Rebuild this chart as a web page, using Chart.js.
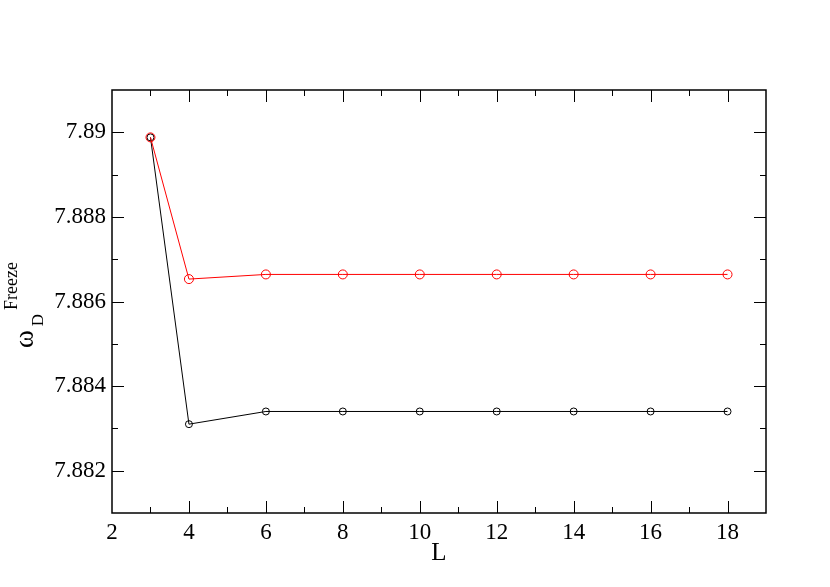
<!DOCTYPE html>
<html>
<head>
<meta charset="utf-8">
<script src="https://cdn.jsdelivr.net/npm/chart.js@4.4.1/dist/chart.umd.min.js"></script>
<style>
html,body{margin:0;padding:0;background:#fff;}
canvas{display:block;}
</style>
</head>
<body>
<canvas id="c" width="830" height="587"></canvas>
<script>
const L = [3, 4, 6, 8, 10, 12, 14, 16, 18];
const blackSeries = [7.88988, 7.88310, 7.88340, 7.88340, 7.88340, 7.88340, 7.88340, 7.88340, 7.88340];
const redSeries = [7.88988, 7.88653, 7.88664, 7.88664, 7.88664, 7.88664, 7.88664, 7.88664, 7.88664];
const xRange = [2, 19];
const yRange = [7.881, 7.891];
const xTickValues = [2, 4, 6, 8, 10, 12, 14, 16, 18];
const xTickLabels = ['2', '4', '6', '8', '10', '12', '14', '16', '18'];
const yTickValues = [7.882, 7.884, 7.886, 7.888, 7.890];
const yTickLabels = ['7.882', '7.884', '7.886', '7.888', '7.89'];
const xMinor = 1;
const yMinor = 0.001;
const xTitle = 'L';
const yTitle = ['ω', 'D', 'Freeze'];

const FONT = '"Liberation Serif", "Times New Roman", serif';

function pts(ys) { return L.map((x, i) => ({x: x, y: ys[i]})); }

const framePlugin = {
  id: 'frame',
  afterDatasetsDraw(chart) {
    const ctx = chart.ctx, a = chart.chartArea;
    const xs = chart.scales.x, ys = chart.scales.y;
    ctx.save();
    ctx.strokeStyle = '#000';
    ctx.lineWidth = 1.5;
    ctx.strokeRect(a.left, a.top, a.right - a.left, a.bottom - a.top);
    ctx.lineWidth = 1;
    ctx.beginPath();
    // x ticks (bottom and top, inward)
    const nx = Math.round((xRange[1] - xRange[0]) / xMinor);
    for (let k = 1; k < nx; k++) {
      const v = xRange[0] + k * xMinor;
      const major = xTickValues.some(t => Math.abs(t - v) < 1e-9);
      const len = major ? 12 : 6;
      const px = Math.round(xs.getPixelForValue(v)) + 0.5;
      ctx.moveTo(px, a.bottom); ctx.lineTo(px, a.bottom - len);
      ctx.moveTo(px, a.top); ctx.lineTo(px, a.top + len);
    }
    // y ticks (left and right, inward)
    const ny = Math.round((yRange[1] - yRange[0]) / yMinor);
    for (let k = 1; k < ny; k++) {
      const v = yRange[0] + k * yMinor;
      const major = yTickValues.some(t => Math.abs(t - v) < 1e-9);
      const len = major ? 12 : 6;
      const py = Math.round(ys.getPixelForValue(v)) + 0.5;
      ctx.moveTo(a.left, py); ctx.lineTo(a.left + len, py);
      ctx.moveTo(a.right, py); ctx.lineTo(a.right - len, py);
    }
    ctx.stroke();

    // x title
    ctx.fillStyle = '#000';
    ctx.font = '25px ' + FONT;
    ctx.textAlign = 'center';
    ctx.textBaseline = 'alphabetic';
    ctx.fillText(xTitle, (a.left + a.right) / 2, 560);

    // y title (rotated)
    ctx.save();
    ctx.translate(33, 348);
    ctx.rotate(-Math.PI / 2);
    ctx.textAlign = 'left';
    ctx.font = '27px ' + FONT;
    ctx.fillText(yTitle[0], 0, 0);
    const w = ctx.measureText(yTitle[0]).width;
    ctx.font = '17px ' + FONT;
    ctx.fillText(yTitle[1], w + 4, 10);
    ctx.font = '18px ' + FONT;
    ctx.fillText(yTitle[2], 38, -16);
    ctx.restore();
    ctx.restore();
  }
};

new Chart(document.getElementById('c'), {
  type: 'line',
  data: {
    datasets: [
      {
        data: pts(redSeries),
        borderColor: '#ff0000',
        borderWidth: 1,
        pointStyle: 'circle',
        pointRadius: 4.5,
        pointBorderWidth: 1,
        pointBorderColor: '#ff0000',
        pointBackgroundColor: 'rgba(0,0,0,0)',
        tension: 0
      },
      {
        data: pts(blackSeries),
        borderColor: '#000000',
        borderWidth: 1,
        pointStyle: 'circle',
        pointRadius: 3.5,
        pointBorderWidth: 1,
        pointBorderColor: '#000000',
        pointBackgroundColor: 'rgba(0,0,0,0)',
        tension: 0
      }
    ]
  },
  options: {
    responsive: false,
    animation: false,
    devicePixelRatio: 1,
    layout: {padding: {left: 0, top: 90, right: 64, bottom: 0}},
    plugins: {legend: {display: false}, tooltip: {enabled: false}},
    scales: {
      x: {
        type: 'linear',
        min: xRange[0], max: xRange[1],
        grid: {display: false, drawTicks: false},
        border: {display: false},
        afterFit(s) { s.height = 74; },
        afterBuildTicks(s) { s.ticks = xTickValues.map(v => ({value: v})); },
        ticks: {
          color: '#000',
          padding: 6,
          maxRotation: 0,
          autoSkip: false,
          font: {family: FONT, size: 23},
          callback: (v) => xTickLabels[xTickValues.indexOf(v)]
        }
      },
      y: {
        type: 'linear',
        min: yRange[0], max: yRange[1],
        grid: {display: false, drawTicks: false},
        border: {display: false},
        afterFit(s) { s.width = 112; },
        afterBuildTicks(s) { s.ticks = yTickValues.map(v => ({value: v})); },
        ticks: {
          color: '#000',
          padding: 6,
          autoSkip: false,
          font: {family: FONT, size: 23},
          callback: (v) => {
            const i = yTickValues.findIndex(t => Math.abs(t - v) < 1e-9);
            return i >= 0 ? yTickLabels[i] : '';
          }
        }
      }
    }
  },
  plugins: [framePlugin]
});
</script>
</body>
</html>
